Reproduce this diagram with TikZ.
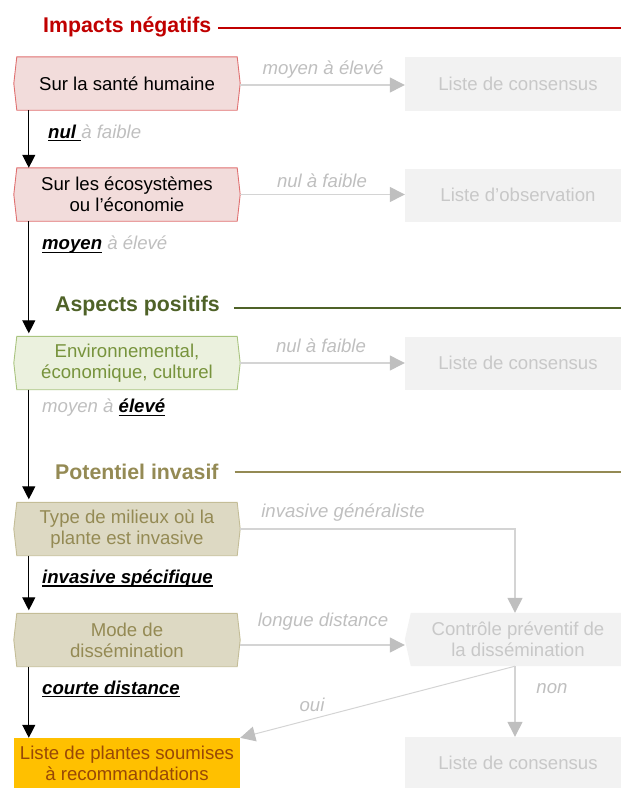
\documentclass[tikz,border=0pt]{standalone}
\usepackage{fontspec}
\setmainfont{Liberation Sans}
\usetikzlibrary{arrows.meta,backgrounds}
\definecolor{titred}{HTML}{C00000}
\definecolor{pinkfill}{HTML}{F2DCDB}
\definecolor{pinkline}{HTML}{E07070}
\definecolor{titgreen}{HTML}{4F6228}
\definecolor{greenfill}{HTML}{EBF1DE}
\definecolor{greenline}{HTML}{A9C47F}
\definecolor{greentext}{HTML}{77933C}
\definecolor{titkhaki}{HTML}{948A54}
\definecolor{khakifill}{HTML}{DDD9C3}
\definecolor{khakiline}{HTML}{C4BD97}
\definecolor{boxgray}{HTML}{F2F2F2}
\definecolor{boxtext}{HTML}{C8C8C8}
\definecolor{labgray}{HTML}{BFBFBF}
\definecolor{linegray}{HTML}{D4D4D4}
\definecolor{arrgray}{HTML}{BFBFBF}
\definecolor{orangefill}{HTML}{FFC000}
\definecolor{orangetext}{HTML}{984807}
\newcommand\bodyfont{\fontsize{18.6bp}{21bp}\selectfont}
\newcommand\titfont{\fontsize{21.3bp}{24bp}\selectfont\bfseries}
\newsavebox\mybox
\newcommand\myuline[1]{\sbox\mybox{#1}\rlap{\rule[-3.2bp]{\wd\mybox}{1.6bp}}\usebox\mybox}
\newcommand\myhex[2]{\draw[#2] (#1.north west) -- (#1.north east) -- ([xshift=3bp]#1.east) -- (#1.south east) -- (#1.south west) -- ([xshift=-3bp]#1.west) -- cycle;}
\begin{document}
\begin{tikzpicture}[x=1bp,y=-1bp,
  hexbox/.style={rectangle, minimum width=220bp, minimum height=53bp, align=center, inner sep=0pt, font=\bodyfont},
  graybox/.style={rectangle, fill=boxgray, minimum width=216bp, minimum height=53bp, align=center, inner sep=0pt, font=\bodyfont, text=boxtext},
  titlenode/.style={anchor=west, inner sep=0pt, font=\titfont},
  glab/.style={inner sep=0pt, font=\bodyfont\itshape, text=labgray},
  blab/.style={anchor=west, inner sep=0pt, font=\bodyfont\itshape, text=black},
  blackarrow/.style={line width=1.2bp, black, -{Triangle[width=13bp,length=13bp]}},
  grayarrow/.style={line width=1.3bp, linegray, -{Triangle[width=15bp,length=15bp,color=arrgray]}},
  titleline/.style={line width=2.2bp}
]
\useasboundingbox (0,0) rectangle (621,788);

% titles
\node[titlenode, text=titred] (ti1) at (43,27) {Impacts négatifs};
\node[titlenode, text=titgreen] (ti2) at (55,306) {Aspects positifs};
\node[titlenode, text=titkhaki] (ti3) at (55,472) {Potentiel invasif};
\coordinate (e1) at (621,28);
\coordinate (e2) at (621,308);
\coordinate (e3) at (621,472);
\draw[titleline, titred] ([xshift=7bp]ti1.east |- e1) -- (e1);
\draw[titleline, titgreen] ([xshift=14bp]ti2.east |- e2) -- (e2);
\draw[titleline, titkhaki] ([xshift=16bp]ti3.east |- e3) -- (e3);

% left boxes
\node[hexbox, text=black] (h1) at (127,83.5) {Sur la santé humaine};
\node[hexbox, text=black] (h2) at (127,194.5) {Sur les écosystèmes\\ou l’économie};
\node[hexbox, text=greentext] (g1) at (127,363) {Environnemental,\\économique, culturel};
\node[hexbox, text=titkhaki] (t1) at (127,529) {Type de milieux où la\\plante est invasive};
\node[hexbox, text=titkhaki] (t2) at (127,640) {Mode de\\dissémination};
\node[rectangle, fill=orangefill, minimum width=226bp, minimum height=50bp, inner sep=0pt, align=center, font=\bodyfont, text=orangetext] (fin) at (127,763) {Liste de plantes soumises\\à recommandations};

\begin{scope}[on background layer]
\myhex{h1}{fill=pinkfill, draw=pinkline, line width=0.9bp}
\myhex{h2}{fill=pinkfill, draw=pinkline, line width=0.9bp}
\myhex{g1}{fill=greenfill, draw=greenline, line width=0.9bp}
\myhex{t1}{fill=khakifill, draw=khakiline, line width=0.9bp}
\myhex{t2}{fill=khakifill, draw=khakiline, line width=0.9bp}
\end{scope}

% right boxes
\node[graybox] (c1) at (513,84) {\hspace*{10bp}Liste de consensus};
\node[graybox] (c2) at (513,195) {\hspace*{10bp}Liste d’observation};
\node[graybox] (c3) at (513,363) {\hspace*{10bp}Liste de consensus};
\node[rectangle, minimum width=216bp, minimum height=53bp, inner sep=0pt] (ctrl) at (513,639.5) {};
\fill[boxgray] ([xshift=6bp]ctrl.north west) -- (ctrl.north east) -- (ctrl.south east) -- ([xshift=6bp]ctrl.south west) -- (ctrl.west) -- cycle;
\node[inner sep=0pt, align=center, font=\bodyfont, text=boxtext] (ctrltext) at (518,639.5) {Contrôle préventif de\\la dissémination};
\node[graybox, minimum height=51bp] (c4) at (513,762.5) {\hspace*{10bp}Liste de consensus};

% black arrows
\draw[blackarrow] ([xshift=12bp]h1.south west) -- ([xshift=12bp]h2.north west);
\draw[blackarrow] ([xshift=12bp]h2.south west) -- ([xshift=12bp,yshift=3bp]g1.north west);
\draw[blackarrow] ([xshift=12bp]g1.south west) -- ([xshift=12bp,yshift=3bp]t1.north west);
\draw[blackarrow] ([xshift=12bp]t1.south west) -- ([xshift=12bp,yshift=3bp]t2.north west);
\draw[blackarrow] ([xshift=12bp]t2.south west) -- ([xshift=15bp]fin.north west);

% gray arrows
\draw[grayarrow] ([xshift=3bp,yshift=-1.5bp]h1.east) -- ([yshift=-1.5bp]h1.east -| c1.west);
\draw[grayarrow] ([xshift=3bp]h2.east) -- (h2.east -| c2.west);
\draw[grayarrow] ([xshift=3bp]g1.east) -- (g1.east -| c3.west);
\draw[grayarrow] ([xshift=3bp]t1.east) -- ([xshift=2bp]t1.east -| ctrl.north) -- ([xshift=2bp]ctrl.north);
\draw[grayarrow] ([xshift=3bp,yshift=-5bp]t2.east) -- ([yshift=-5bp]t2.east -| ctrl.west);
\draw[grayarrow] ([xshift=2bp]ctrl.south) -- ([xshift=2bp]c4.north);
\draw[line width=1bp, linegray, -{Triangle[width=15bp,length=15bp,color=arrgray]}] ([xshift=2bp]ctrl.south) -- (fin.north east);

% gray labels
\node[glab] (l1) at (323,70) {moyen à élevé};
\node[glab] (l2) at (322,181) {nul à faible};
\node[glab] (l3) at (321,346) {nul à faible};
\node[glab] (l4) at (343,513) {invasive généraliste};
\node[glab] (l5) at (323,622) {longue distance};
\node[glab] (l6) at (312,705) {oui};
\node[glab] (l7) at (552,689) {non};

% black labels
\node[blab] (b1) at (48,133) {\myuline{\textbf{nul }}\textcolor{labgray}{à faible}};
\node[blab] (b2) at (42,245) {\myuline{\textbf{moyen}} \textcolor{labgray}{à élevé}};
\node[blab] (b3) at (42,408) {\textcolor{labgray}{moyen à} \myuline{\textbf{élevé}}};
\node[blab] (b4) at (42,579) {\myuline{\textbf{invasive spécifique}}};
\node[blab] (b5) at (42,689) {\myuline{\textbf{courte distance}}};
\end{tikzpicture}
\end{document}
